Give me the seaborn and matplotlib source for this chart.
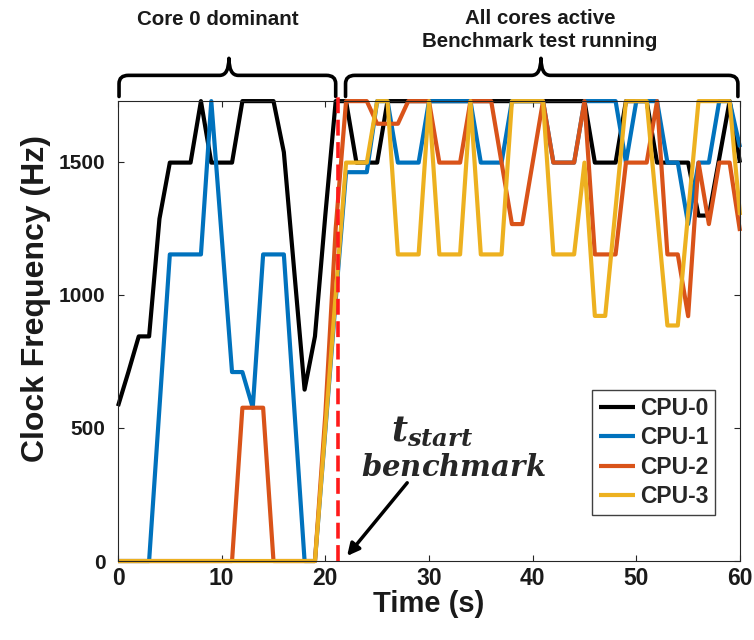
import numpy as np
import pandas as pd
import matplotlib
matplotlib.use("Agg")
import matplotlib.pyplot as plt
import matplotlib.transforms as mtransforms
from matplotlib.path import Path
from matplotlib.patches import PathPatch
import seaborn as sns

# ---------------- data ----------------
time_s = list(range(61))

cpu0 = [582, 710, 844, 844, 1286, 1497, 1497, 1497, 1728, 1497,
        1497, 1497, 1728, 1728, 1728, 1728, 1536, 1090, 644, 844,
        1300, 1728, 1728, 1497, 1497, 1497, 1728, 1728, 1728, 1728,
        1728, 1728, 1728, 1728, 1728, 1728, 1728, 1728, 1728, 1728,
        1728, 1728, 1728, 1728, 1728, 1728, 1497, 1497, 1497, 1728,
        1728, 1728, 1497, 1497, 1497, 1497, 1298, 1298, 1513, 1728,
        1497]
cpu1 = [0, 0, 0, 0, 576, 1152, 1152, 1152, 1152, 1728,
        1220, 710, 710, 576, 1152, 1152, 1152, 576, 0, 0,
        490, 980, 1461, 1461, 1461, 1728, 1728, 1497, 1497, 1497,
        1728, 1728, 1728, 1728, 1728, 1497, 1497, 1497, 1728, 1728,
        1728, 1728, 1497, 1497, 1497, 1728, 1728, 1728, 1728, 1497,
        1728, 1728, 1728, 1497, 1497, 1266, 1497, 1497, 1728, 1728,
        1555]
cpu2 = [0, 0, 0, 0, 0, 0, 0, 0, 0, 0,
        0, 0, 576, 576, 576, 0, 0, 0, 0, 0,
        550, 1250, 1728, 1728, 1728, 1643, 1643, 1643, 1728, 1728,
        1728, 1497, 1497, 1497, 1728, 1728, 1728, 1497, 1266, 1266,
        1497, 1728, 1497, 1497, 1497, 1728, 1152, 1152, 1152, 1497,
        1497, 1497, 1728, 1152, 1152, 920, 1497, 1266, 1497, 1497,
        1240]
cpu3 = [0, 0, 0, 0, 0, 0, 0, 0, 0, 0,
        0, 0, 0, 0, 0, 0, 0, 0, 0, 0,
        500, 1000, 1497, 1497, 1497, 1728, 1728, 1152, 1152, 1152,
        1728, 1152, 1152, 1152, 1728, 1152, 1152, 1152, 1728, 1728,
        1728, 1728, 1152, 1152, 1152, 1497, 921, 921, 1325, 1728,
        1728, 1728, 1307, 885, 885, 1307, 1728, 1728, 1728, 1728,
        1300]

series_names = ["CPU-0", "CPU-1", "CPU-2", "CPU-3"]
series_colors = ["#000000", "#0072BD", "#D95319", "#EDB120"]
x_ticks = [0, 10, 20, 30, 40, 50, 60]
y_ticks = [0, 500, 1000, 1500]
t_start = 21.2
region_left = "Core 0 dominant"
region_right = "All cores active\nBenchmark test running"

# ---------------- style ----------------
sns.set_theme(style="ticks")
plt.rcParams["font.family"] = ["Liberation Sans", "DejaVu Sans"]
plt.rcParams["font.weight"] = "bold"
plt.rcParams["mathtext.fontset"] = "custom"
plt.rcParams["mathtext.it"] = "DejaVu Serif:italic:bold"
plt.rcParams["mathtext.rm"] = "DejaVu Serif:bold"
plt.rcParams["mathtext.bf"] = "DejaVu Serif:italic:bold"

df = pd.DataFrame({
    "Time": time_s * 4,
    "Freq": cpu0 + cpu1 + cpu2 + cpu3,
    "CPU": np.repeat(series_names, len(time_s)),
})

fig = plt.figure(figsize=(7.54, 6.4), dpi=100)
ax = fig.add_axes([0.1565, 0.1234, 0.8249, 0.7186])

sns.lineplot(data=df, x="Time", y="Freq", hue="CPU", hue_order=series_names,
             palette=series_colors, linewidth=3, estimator=None, errorbar=None,
             sort=False, legend=False, ax=ax)
data_lines = list(ax.lines[:4])
for ln in data_lines:
    ln.set_clip_on(False)
    ln.set_solid_joinstyle("round")
    ln.set_solid_capstyle("butt")

ax.set_xlim(0, 60)
ax.set_ylim(0, 1728)
ax.set_xticks(x_ticks)
ax.set_yticks(y_ticks)
ax.tick_params(axis="both", direction="in", length=4, width=0.8,
               top=True, right=True, color="#262626")
ax.tick_params(axis="x", pad=4, labelsize=16.5)
ax.tick_params(axis="y", pad=9, labelsize=15)
for lab in ax.get_xticklabels() + ax.get_yticklabels():
    lab.set_fontweight("bold")
    lab.set_color("#1a1a1a")
for sp in ax.spines.values():
    sp.set_visible(True)
    sp.set_color("#262626")
    sp.set_linewidth(0.8)

ax.set_xlabel("Time (s)", fontsize=21, fontweight="bold", color="#1a1a1a")
ax.set_ylabel("Clock Frequency (Hz)", fontsize=23, fontweight="bold", color="#1a1a1a")
ax.xaxis.set_label_coords(0.5, -0.064)
ax.yaxis.set_label_coords(-0.108, 0.57)

# red dashed benchmark-start marker
vline, = ax.plot([t_start, t_start], [0, 1745], color="#FF1A1A", lw=2.6,
                 clip_on=False, zorder=5)
vline.set_dashes([4.4, 1.8])

# legend
ax.legend(data_lines, series_names, loc="upper left", bbox_to_anchor=(0.762, 0.372),
          frameon=True, fancybox=False, framealpha=1, edgecolor="#404040",
          prop={"weight": "bold", "size": 16.5}, handlelength=1.6,
          handletextpad=0.2, labelspacing=0.28, borderpad=0.3,
          borderaxespad=0)

# annotation text + arrow
ax.text(30.3, 486, r"$t_{start}$", fontsize=25, ha="center", va="center")
ax.text(32.4, 350, r"$benchmark$", fontsize=21, ha="center", va="center")
ax.annotate("", xy=(22.1, 19), xytext=(27.9, 294),
            arrowprops=dict(arrowstyle="-|>", lw=2.5, color="black",
                            mutation_scale=18, shrinkA=0, shrinkB=0),
            annotation_clip=False)

# curly braces above the axes
trans = mtransforms.blended_transform_factory(ax.transData, ax.transAxes)


def brace(x0, x1, xm, y_end, y_bar, y_tip, dx=0.9, dy=0.018):
    verts = [
        (x0, y_end), (x0, y_bar - dy),
        (x0, y_bar), (x0 + dx, y_bar),
        (xm - dx, y_bar),
        (xm, y_bar), (xm, y_tip),
        (xm, y_bar), (xm + dx, y_bar),
        (x1 - dx, y_bar),
        (x1, y_bar), (x1, y_bar - dy),
        (x1, y_end),
    ]
    codes = [Path.MOVETO, Path.LINETO,
             Path.CURVE3, Path.CURVE3,
             Path.LINETO,
             Path.CURVE3, Path.CURVE3,
             Path.CURVE3, Path.CURVE3,
             Path.LINETO,
             Path.CURVE3, Path.CURVE3,
             Path.LINETO]
    patch = PathPatch(Path(verts, codes), transform=trans, fill=False,
                      lw=2.6, edgecolor="black", clip_on=False,
                      capstyle="round", joinstyle="round")
    ax.add_patch(patch)


brace(0.1, 21.0, 10.7, 1.010, 1.056, 1.093)
brace(21.95, 59.8, 40.8, 1.010, 1.056, 1.093)

ax.text(9.6, 1.178, region_left, transform=trans, ha="center", va="center",
        fontsize=14.8, fontweight="bold", color="#1a1a1a")
ax.text(40.7, 1.154, region_right, transform=trans, ha="center", va="center",
        fontsize=14.8, fontweight="bold", linespacing=1.25, color="#1a1a1a")

fig.savefig("out.png", dpi=100)
